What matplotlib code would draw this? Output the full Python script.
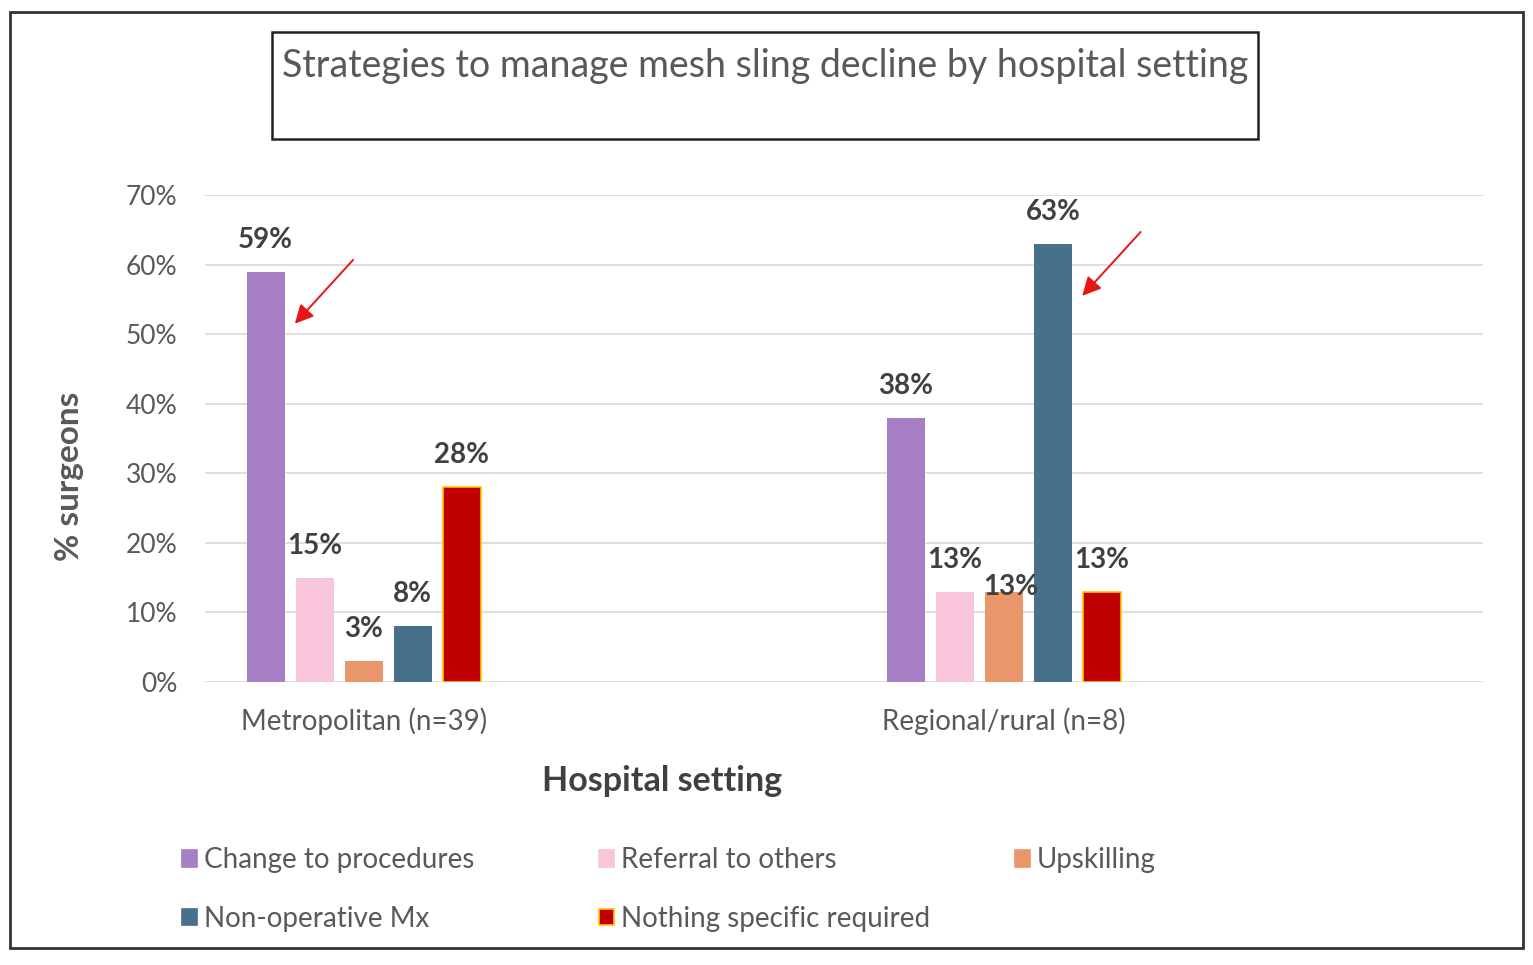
import matplotlib
matplotlib.use("Agg")
import matplotlib.pyplot as plt
from matplotlib.patches import Rectangle, Patch
import numpy as np

# ---- data ----
categories = ["Metropolitan (n=39)", "Regional/rural (n=8)"]
series_names = ["Change to procedures", "Referral to others", "Upskilling",
                "Non-operative Mx", "Nothing specific required"]
change_to_procedures = [59, 38]
referral_to_others = [15, 13]
upskilling = [3, 13]
non_operative_mx = [8, 63]
nothing_specific = [28, 13]
y_ticks = [0, 10, 20, 30, 40, 50, 60, 70]
highlight = [(0, 0), (3, 1)]  # (series index, category index) marked with arrows

values = [change_to_procedures, referral_to_others, upskilling, non_operative_mx, nothing_specific]
colors = ["#A67FC5", "#F8C5DB", "#E8966A", "#48708A", "#C00000"]
edges = ["none", "none", "none", "none", "#FFC000"]

W, H = 1533, 965
plt.rcParams['font.family'] = ['Lato', 'DejaVu Sans']
fig = plt.figure(figsize=(W / 100, H / 100), dpi=100)

def fx(px):
    return px / W

def fy(py):
    return 1 - py / H

# outer border
fig.patches.append(Rectangle((fx(10), fy(948)), fx(1523) - fx(10), fy(12) - fy(948),
                             transform=fig.transFigure, fill=False, lw=2, ec="#333333"))
# title box
fig.patches.append(Rectangle((fx(272), fy(139)), fx(1258) - fx(272), fy(32) - fy(139),
                             transform=fig.transFigure, fill=False, lw=1.8, ec="#222222"))
fig.text(fx(765), fy(66), "Strategies to manage mesh sling decline by hospital setting",
         ha="center", va="center", fontsize=27, color="#595959")

ax = fig.add_axes([fx(205), fy(682), fx(1483) - fx(205), fy(195) - fy(682)])
x = np.arange(len(categories))
width = 0.059
step = 0.0766
offsets = (np.arange(len(series_names)) - 2) * step

label_nudge = {(2, 1): (5, -20)}
bars_all = []
for i, (name, vals) in enumerate(zip(series_names, values)):
    bars = ax.bar(x + offsets[i], vals, width, color=colors[i], edgecolor=edges[i],
                  linewidth=1.2 if edges[i] != "none" else 0, label=name, zorder=3)
    bars_all.append(bars)
    for j, b in enumerate(bars):
        dx, dy = label_nudge.get((i, j), (0, 0))
        ax.annotate(f"{vals[j]}%", (b.get_x() + b.get_width() / 2, b.get_height()),
                    xytext=(dx, 23 + dy), textcoords="offset points",
                    ha="center", va="center", fontsize=20, fontweight="bold",
                    color="#404040", zorder=5)

for (i, j) in highlight:
    b = bars_all[i][j]
    right = b.get_x() + b.get_width()
    ax.annotate("", xy=(right + 0.016, b.get_height() - 7.5),
                xytext=(42, 46), textcoords="offset points",
                arrowprops=dict(arrowstyle="-|>", color="#E81515", lw=1.4,
                                mutation_scale=28, shrinkA=0, shrinkB=0), zorder=6)

ax.set_xlim(-0.248, 1.748)
ax.set_ylim(0, 70)
ax.set_yticks(y_ticks)
ax.set_yticklabels([f"{t}%" for t in y_ticks])
ax.set_xticks(x)
ax.set_xticklabels(categories)
ax.tick_params(axis="y", length=0, pad=20, labelsize=19, labelcolor="#595959")
ax.tick_params(axis="x", length=0, pad=18, labelsize=20, labelcolor="#595959")
for s in ax.spines.values():
    s.set_visible(False)
ax.yaxis.grid(True, color="#D9D9D9", lw=1.2, zorder=0)
ax.set_axisbelow(True)

fig.text(fx(70), fy(476), "% surgeons", rotation=90, ha="center", va="center",
         fontsize=24, fontweight="bold", color="#595959")
fig.text(fx(662), fy(781), "Hospital setting", ha="center", va="center",
         fontsize=24.5, fontweight="bold", color="#404040")

# legend in three columns
handles = [Patch(facecolor=colors[i], edgecolor=edges[i] if edges[i] != "none" else colors[i],
                 linewidth=1.2, label=series_names[i]) for i in range(len(series_names))]
columns = [[0, 3], [1, 4], [2]]
col_x = [182, 599, 1015]
for cx, idxs in zip(col_x, columns):
    leg = fig.legend(handles=[handles[k] for k in idxs], loc="upper left",
                     bbox_to_anchor=(fx(cx), fy(847)), frameon=False, fontsize=20,
                     handlelength=0.55, handleheight=0.55, handletextpad=0.25,
                     labelspacing=1.18, borderpad=0, borderaxespad=0)
    for t in leg.get_texts():
        t.set_color("#595959")

fig.savefig("out.png", dpi=100, facecolor="white")
